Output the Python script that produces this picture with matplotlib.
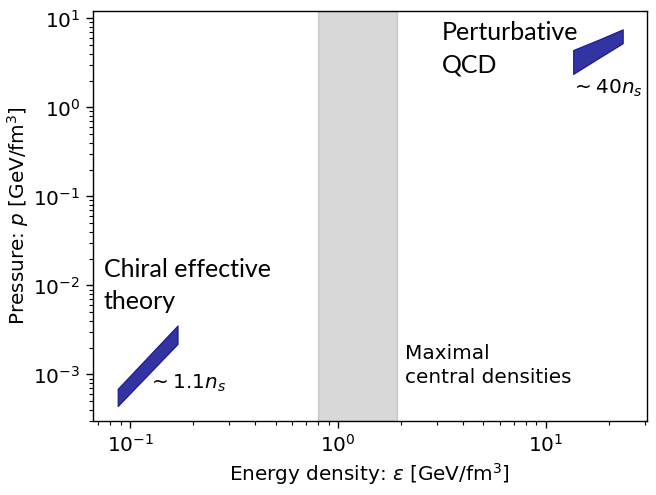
import matplotlib
matplotlib.use("Agg")
import matplotlib.pyplot as plt
import numpy as np

# Data
chiral_eps = [0.087, 0.169]
chiral_p_low = [4.4e-4, 2.2e-3]
chiral_p_high = [6.9e-4, 3.56e-3]

pqcd_eps = [13.5, 18.0, 23.4]
pqcd_p_low = [2.37, 3.6, 5.25]
pqcd_p_high = [4.41, 5.8, 7.54]

band_eps = [0.80, 1.93]

xlim = (0.066, 30.5)
ylim = (3.0e-4, 12.1)

fig = plt.figure(figsize=(6.56, 4.95), dpi=100)
ax = fig.add_axes([0.1413, 0.1495, 0.8445, 0.8283])
ax.set_xscale('log')
ax.set_yscale('log')
ax.set_xlim(*xlim)
ax.set_ylim(*ylim)

ax.axvspan(band_eps[0], band_eps[1], color='gray', alpha=0.3, zorder=1)

ax.fill_between(chiral_eps, chiral_p_low, chiral_p_high, facecolor='darkblue', alpha=0.8,
                edgecolor='darkblue', linewidth=0.8, zorder=3)
ax.fill_between(pqcd_eps, pqcd_p_low, pqcd_p_high, facecolor='darkblue', alpha=0.8,
                edgecolor='darkblue', linewidth=0.8, zorder=3)

fs = 14.4
cal = ['Lato', 'DejaVu Sans']
T = ax.transAxes
ax.text(0.0204, 0.352, "Chiral effective", fontsize=18, family=cal, transform=T,
        ha='left', va='baseline')
ax.text(0.0204, 0.2724, "theory", fontsize=18, family=cal, transform=T,
        ha='left', va='baseline')
ax.text(0.630, 0.929, "Perturbative", fontsize=18, family=cal, transform=T,
        ha='left', va='baseline')
ax.text(0.630, 0.849, "QCD", fontsize=18, family=cal, transform=T,
        ha='left', va='baseline')
ax.text(0.0993, 0.078, r"$\sim 1.1n_s$", fontsize=fs, transform=T, ha='left', va='baseline')
ax.text(0.863, 0.799, r"$\sim 40n_s$", fontsize=fs, transform=T, ha='left', va='baseline')
ax.text(0.5637, 0.1505, "Maximal", fontsize=fs, transform=T, ha='left', va='baseline')
ax.text(0.5637, 0.0934, "central densities", fontsize=fs, transform=T, ha='left', va='baseline')

ax.set_xlabel(r"Energy density: $\varepsilon$ [GeV/fm$^3$]", fontsize=fs, labelpad=4)
ax.set_ylabel(r"Pressure: $p$ [GeV/fm$^3$]", fontsize=fs, labelpad=1.5)
ax.tick_params(axis='both', which='major', labelsize=fs, length=5, width=1.0, pad=4)
ax.tick_params(axis='both', which='minor', length=3, width=0.8)
for s in ax.spines.values():
    s.set_linewidth(1.0)

fig.savefig("out.png", dpi=100)
